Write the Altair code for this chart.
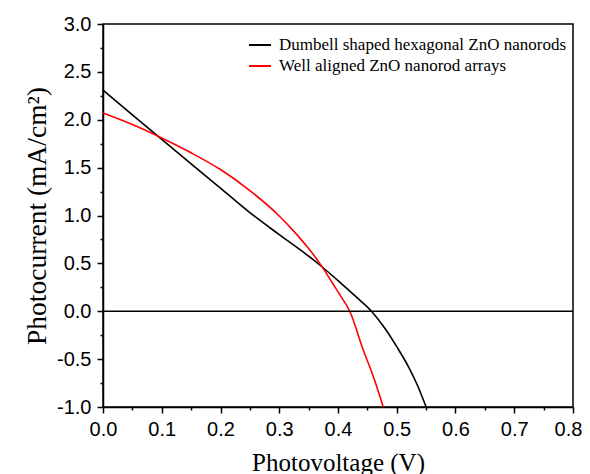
import altair as alt
import pandas as pd

names = ["Dumbell shaped hexagonal ZnO nanorods", "Well aligned ZnO nanorod arrays"]
colors = ["#000000", "#ff0000"]

black_v = [0.0, 0.05, 0.1, 0.15, 0.2, 0.25, 0.3, 0.35, 0.369, 0.4, 0.43, 0.457, 0.48, 0.5, 0.52, 0.535, 0.55]
black_j = [2.31, 2.05, 1.795, 1.54, 1.285, 1.03, 0.80, 0.575, 0.483, 0.32, 0.155, 0.0, -0.18, -0.37, -0.58, -0.77, -1.0]

red_v = [0.0, 0.05, 0.1, 0.15, 0.2, 0.25, 0.3, 0.33, 0.35, 0.369, 0.39, 0.405, 0.42, 0.443, 0.46, 0.477]
red_j = [2.07, 1.95, 1.81, 1.655, 1.48, 1.26, 0.995, 0.80, 0.655, 0.50, 0.30, 0.155, 0.0, -0.405, -0.68, -1.0]

x_major = [0.0, 0.1, 0.2, 0.3, 0.4, 0.5, 0.6, 0.7, 0.8]
x_minor = [0.05, 0.15, 0.25, 0.35, 0.45, 0.55, 0.65, 0.75]
y_major = [-1.0, -0.5, 0.0, 0.5, 1.0, 1.5, 2.0, 2.5, 3.0]
y_minor = [-0.75, -0.25, 0.25, 0.75, 1.25, 1.75, 2.25, 2.75]

rows = []
for i, (vs, js) in enumerate([(black_v, black_j), (red_v, red_j)]):
    for k, (v, j) in enumerate(zip(vs, js)):
        rows.append({"series": names[i], "v": v, "j": j, "order": k})
df = pd.DataFrame(rows)

xscale = alt.Scale(domain=[0, 0.8], nice=False, zero=False)
yscale = alt.Scale(domain=[-1, 3], nice=False, zero=False)

lbl = "datum.value < 0 ? '-' + format(-datum.value, '.1f') : format(datum.value, '.1f')"

lines = alt.Chart(df).mark_line(strokeWidth=1.6, interpolate="monotone").encode(
    x=alt.X("v:Q", scale=xscale, axis=alt.Axis(
        values=x_major, labelExpr=lbl, title="Photovoltage (V)", orient="bottom",
        tickSize=6, grid=False, labelPadding=6, titlePadding=11, labelFlush=False,
        labelOffset=alt.condition("datum.value >= 0.79", alt.value(-5), alt.value(0)),
        titleFontSize=25)),
    y=alt.Y("j:Q", scale=yscale, axis=alt.Axis(
        values=y_major, labelExpr=lbl, title="Photocurrent (mA/cm²)", orient="left",
        tickSize=6, grid=False, labelPadding=6, titlePadding=5, labelFlush=False,
        titleFontSize=27.5)),
    color=alt.Color("series:N", scale=alt.Scale(domain=names, range=colors),
                    legend=alt.Legend(title=None, orient="none", legendX=145, legendY=9,
                                      symbolType="stroke", symbolSize=484,
                                      symbolStrokeWidth=2, labelFont="Liberation Serif",
                                      labelFontSize=17, labelColor="black",
                                      labelOffset=7, rowPadding=1, padding=0,
                                      labelLimit=400)),
    order="order:Q",
)

minor = alt.Chart(df).mark_point(opacity=0).encode(
    x=alt.X("v:Q", scale=xscale, axis=alt.Axis(
        values=x_minor, labels=False, title=None, orient="bottom", tickSize=3,
        domain=False, grid=False)),
    y=alt.Y("j:Q", scale=yscale, axis=alt.Axis(
        values=y_minor, labels=False, title=None, orient="left", tickSize=3,
        domain=False, grid=False)),
)

zero = alt.Chart(pd.DataFrame({"z": [0.0]})).mark_rule(color="black", strokeWidth=1.5).encode(
    y=alt.Y("z:Q", scale=yscale, axis=None)
)

chart = alt.layer(lines, minor, zero).resolve_axis(
    x="independent", y="independent"
).properties(
    width=470, height=383,
    autosize=alt.AutoSizeParams(type="none"),
    padding={"left": 95, "top": 16, "right": 9, "bottom": 72},
    background="white",
).configure_view(
    stroke="black", strokeWidth=1.5
).configure_axis(
    labelFont="Liberation Sans", labelFontSize=20, labelColor="black",
    titleFont="Liberation Serif", titleFontWeight="normal",
    titleColor="black", domainColor="black", tickColor="black",
    domainWidth=1.5, tickWidth=1.5,
)

chart.save("out.html", embed_options={"renderer": "svg", "actions": False})
